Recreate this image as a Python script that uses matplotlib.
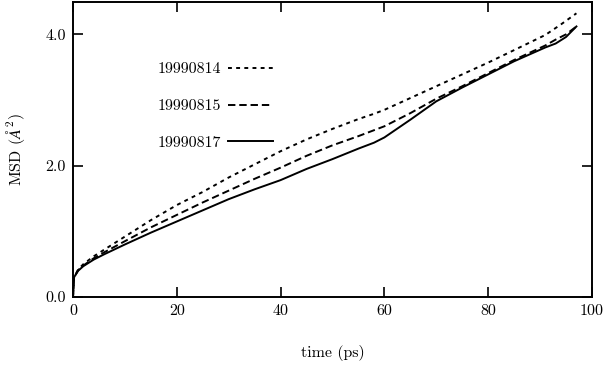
import matplotlib
matplotlib.use("Agg")
import matplotlib.pyplot as plt

plt.rcParams['font.family'] = ['cmr10', 'DejaVu Serif']
plt.rcParams['mathtext.fontset'] = 'cm'
plt.rcParams['axes.formatter.use_mathtext'] = True

t_814 = [0, 0.2, 1, 2, 4, 6, 10, 15, 20, 25, 30, 35, 40, 45, 50, 55, 58, 60, 65, 70, 75, 80, 85, 91, 94, 97]
msd_814 = [0.0, 0.30, 0.42, 0.50, 0.62, 0.72, 0.92, 1.17, 1.40, 1.60, 1.82, 2.02, 2.22, 2.40, 2.56, 2.71, 2.79, 2.85, 3.03, 3.21, 3.39, 3.57, 3.76, 3.99, 4.15, 4.32]

t_815 = [0, 0.2, 1, 2, 4, 6, 10, 15, 20, 25, 30, 35, 40, 45, 50, 55, 58, 60, 65, 70, 75, 80, 85, 91, 93, 95, 97]
msd_815 = [0.0, 0.30, 0.41, 0.48, 0.59, 0.68, 0.85, 1.06, 1.25, 1.44, 1.62, 1.80, 1.97, 2.15, 2.31, 2.45, 2.54, 2.60, 2.80, 3.02, 3.21, 3.41, 3.61, 3.83, 3.92, 4.00, 4.12]

t_817 = [0, 0.2, 1, 2, 4, 6, 10, 15, 20, 25, 30, 35, 40, 45, 50, 55, 58, 60, 65, 70, 75, 80, 85, 91, 93, 95, 97]
msd_817 = [0.0, 0.30, 0.40, 0.47, 0.57, 0.65, 0.80, 0.98, 1.15, 1.32, 1.49, 1.64, 1.78, 1.95, 2.10, 2.26, 2.35, 2.43, 2.70, 2.98, 3.19, 3.39, 3.59, 3.80, 3.86, 3.96, 4.12]

labels = ['19990814', '19990815', '19990817']
x_ticks = [0, 20, 40, 60, 80, 100]
y_ticks = [0.0, 2.0, 4.0]
y_ticklabels = ['0.0', '2.0', '4.0']

fig = plt.figure(figsize=(6.05, 3.65), dpi=100)
ax = fig.add_axes([73/605, 1-297/365, (592-73)/605, (297-1.5)/365])

ax.plot(t_814, msd_814, color='black', lw=1.4, linestyle=(0, (2, 2.2)), label=labels[0])
ax.plot(t_815, msd_815, color='black', lw=1.4, linestyle=(0, (3.8, 2.0)), label=labels[1])
ax.plot(t_817, msd_817, color='black', lw=1.4, linestyle='-', label=labels[2])

ax.set_xlim(0, 100)
ax.set_ylim(0, 4.5)
ax.set_xticks(x_ticks)
ax.set_xticklabels([str(v) for v in x_ticks])
ax.set_yticks(y_ticks)
ax.set_yticklabels(y_ticklabels)
ax.tick_params(direction='in', length=7, width=1.2, top=True, right=True, labelsize=11.5, pad=5)
for s in ax.spines.values():
    s.set_linewidth(1.4)

ax.set_xlabel('time (ps)', fontsize=11.5, labelpad=20)
ax.set_ylabel(r'MSD ($\AA^2$)', fontsize=11.5, labelpad=13)

leg = ax.legend(loc='upper left', bbox_to_anchor=(0.163, 0.795), frameon=False, markerfirst=False,
                fontsize=11.5, labelspacing=1.42, handlelength=2.8, handletextpad=0.45,
                borderaxespad=0, borderpad=0)

fig.savefig('out.png', dpi=100)
